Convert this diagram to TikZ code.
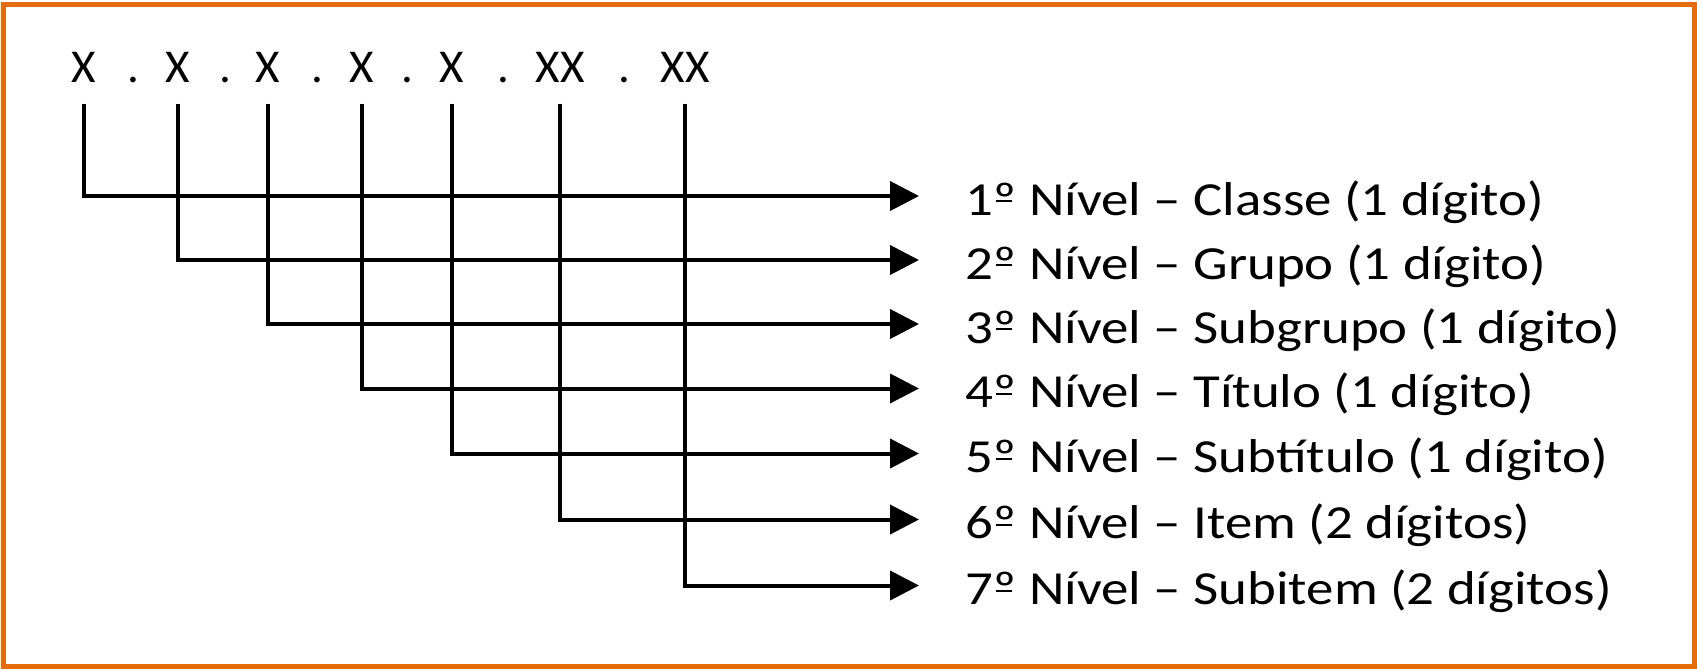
\documentclass[tikz,border=0pt]{standalone}
\usepackage{fontspec}
\setmainfont{Carlito}
\usetikzlibrary{arrows.meta,positioning}
\definecolor{frameorange}{RGB}{228,108,10}
\newcommand{\ordm}{\makebox[0pt][l]{\hspace{0.04em}\rule[0.27em]{0.3em}{0.045em}}º}
\newcommand{\lvltext}[1]{\scalebox{1.157}[1]{#1}}
\tikzset{
	digit/.style={anchor=base, inner xsep=0pt, inner ysep=2.1mm, text depth=0pt, font=\fontsize{13.4}{16}\selectfont},
	sepdot/.style={anchor=base, inner sep=0pt, font=\fontsize{13.4}{16}\selectfont},
	level/.style={inner xsep=0pt, inner ysep=0pt, text height=3.8mm, text depth=0pt, font=\fontsize{13.5}{16}\selectfont},
	link/.style={line width=0.04cm, -{Triangle[length=2.9mm,width=2.9mm]}},
}

\begin{document}
\begin{tikzpicture}
			%%%%% START %%%%%
			\useasboundingbox (0, 0) rectangle (16.97, -6.69);
			\draw[line width=0.05cm, color=frameorange] (0.035, -0.045) rectangle (16.945, -6.665);
			
			% code X.X.X.X.X.XX.XX
			\node[digit] (d1) at (0.84, -0.82) {X};
			\node[sepdot] (p1) at (1.33, -0.82) {.};
			\node[digit] (d2) at (1.78, -0.82) {X};
			\node[sepdot] (p2) at (2.25, -0.82) {.};
			\node[digit] (d3) at (2.68, -0.82) {X};
			\node[sepdot] (p3) at (3.17, -0.82) {.};
			\node[digit] (d4) at (3.62, -0.82) {X};
			\node[sepdot] (p4) at (4.07, -0.82) {.};
			\node[digit] (d5) at (4.52, -0.82) {X};
			\node[sepdot] (p5) at (5.03, -0.82) {.};
			\node[digit] (d6) at (5.60, -0.82) {XX};
			\node[sepdot] (p6) at (6.24, -0.82) {.};
			\node[digit] (d7) at (6.85, -0.82) {XX};
			
			% arrow ends
			\coordinate (e1) at (9.19, -1.96);
			\coordinate (e2) at (9.19, -2.60);
			\coordinate (e3) at (9.19, -3.24);
			\coordinate (e4) at (9.19, -3.885);
			\coordinate (e5) at (9.19, -4.535);
			\coordinate (e6) at (9.19, -5.195);
			\coordinate (e7) at (9.19, -5.855);
			
			% levels
			\node[level, right=4.6mm of e1] (n1) {\lvltext{1\ordm{} Nível -- Classe (1 dígito)}};
			\node[level, right=4.6mm of e2] (n2) {\lvltext{2\ordm{} Nível -- Grupo (1 dígito)}};
			\node[level, right=4.6mm of e3] (n3) {\lvltext{3\ordm{} Nível -- Subgrupo (1 dígito)}};
			\node[level, right=4.6mm of e4] (n4) {\lvltext{4\ordm{} Nível -- Título (1 dígito)}};
			\node[level, right=4.6mm of e5] (n5) {\lvltext{5\ordm{} Nível -- Subtítulo (1 dígito)}};
			\node[level, right=4.6mm of e6] (n6) {\lvltext{6\ordm{} Nível -- Item (2 dígitos)}};
			\node[level, right=4.6mm of e7] (n7) {\lvltext{7\ordm{} Nível -- Subitem (2 dígitos)}};
			
			\draw[link] (d1.south) |- (e1);
			\draw[link] (d2.south) |- (e2);
			\draw[link] (d3.south) |- (e3);
			\draw[link] (d4.south) |- (e4);
			\draw[link] (d5.south) |- (e5);
			\draw[link] (d6.south) |- (e6);
			\draw[link] (d7.south) |- (e7);
			
			%%%%% END %%%%%
\end{tikzpicture}
\end{document}
